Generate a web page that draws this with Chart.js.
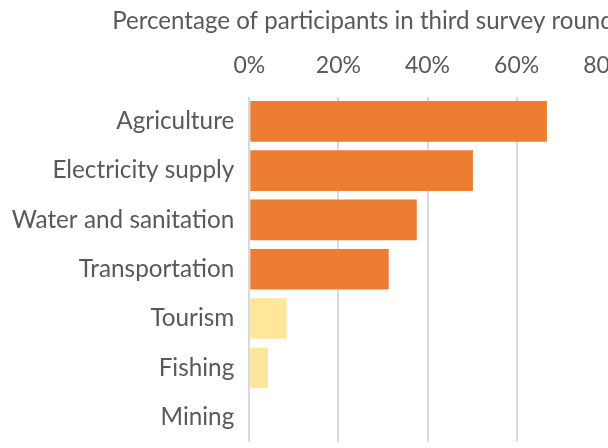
<!DOCTYPE html>
<html>
<head>
<meta charset="utf-8">
<script src="https://cdn.jsdelivr.net/npm/chart.js@4/dist/chart.umd.min.js"></script>
<style>
    html, body { margin: 0; padding: 0; background: #fff; overflow: hidden; }
    #wrap { width: 726px; height: 448px; position: relative; }
</style>
</head>
<body>
<div id="wrap"><canvas id="sectorChart"></canvas></div>
<script>
const sectors = ["Agriculture", "Electricity supply", "Water and sanitation", "Transportation", "Tourism", "Fishing", "Mining"];
const shares = [66.8, 50.2, 37.6, 31.3, 8.4, 4.2, 0];
const highlighted = [true, true, true, true, false, false, false];
const axisTicks = [0, 20, 40, 60, 80];

const textColor = "#595959";
const fontFamily = "Lato, 'Open Sans', sans-serif";

// fixed-width axes, no extra label padding above/below the plot
function fixWidth(width) {
    return scale => {
        scale.width = width;
        scale.paddingTop = 0;
        scale.paddingBottom = 0;
    };
}

document.addEventListener("DOMContentLoaded", () => {
    const ctx = document.getElementById("sectorChart").getContext("2d");
    new Chart(ctx, {
        type: "bar",
        data: {
            labels: sectors,
            datasets: [{
                label: "Percentage of participants",
                data: shares,
                backgroundColor: highlighted.map(h => h ? "#ED7D31" : "#FFE699"),
                categoryPercentage: 1,
                barPercentage: 0.825,
            }]
        },
        options: {
            indexAxis: "y",
            responsive: true,
            maintainAspectRatio: false,
            animation: false,
            layout: {
                padding: { left: 0, right: 0, top: 0, bottom: 6.3 }
            },
            plugins: {
                legend: { display: false },
                tooltip: { enabled: false },
                title: {
                    display: true,
                    text: "Percentage of participants in third survey round",
                    color: textColor,
                    font: { family: fontFamily, size: 24.1, weight: "normal", lineHeight: 1.1 },
                    padding: { top: 8.3, bottom: 0.3 },
                },
            },
            scales: {
                x: {
                    position: "top",
                    min: axisTicks[0],
                    max: axisTicks[axisTicks.length - 1],
                    afterBuildTicks: scale => {
                        scale.ticks = axisTicks.map(v => ({ value: v }));
                    },
                    ticks: {
                        color: textColor,
                        font: { family: fontFamily, size: 23 },
                        padding: 17,
                        maxRotation: 0,
                        callback: v => v + "%",
                    },
                    grid: {
                        color: c => c.tick && c.tick.value === 80 ? "rgba(0,0,0,0)" : "#d9d9d9",
                        lineWidth: 2,
                        drawTicks: false,
                    },
                    border: { display: false },
                },
                y: {
                    afterFit: fixWidth(249.3),
                    ticks: {
                        color: textColor,
                        font: { family: fontFamily, size: 24.3 },
                        padding: 15,
                    },
                    grid: { display: false, drawTicks: false },
                    border: { display: false },
                },
                side: {
                    type: "linear",
                    position: "right",
                    afterFit: fixWidth(726 - 605.7),
                    ticks: { display: false },
                    grid: { display: false, drawTicks: false },
                    border: { display: false },
                },
            },
        },
    });
});
</script>
</body>
</html>
